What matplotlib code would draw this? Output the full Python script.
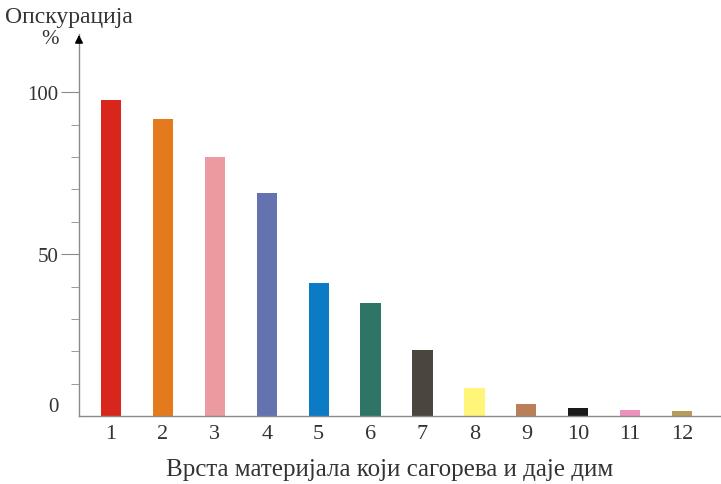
import matplotlib
matplotlib.use("Agg")
import matplotlib.pyplot as plt
from matplotlib.ticker import FixedLocator

# материјали 1-12 и њихова опскурација (%)
categories = ["1", "2", "3", "4", "5", "6", "7", "8", "9", "10", "11", "12"]
obscuration = [97.5, 91.7, 80.0, 69.0, 41.0, 35.0, 20.4, 8.6, 3.7, 2.5, 1.9, 1.5]
bar_colors = ["#d9261c", "#e57a1c", "#eb9aa0", "#6473b0", "#0a7bc4", "#2e7566",
              "#4a463e", "#fff578", "#b97f58", "#1a1a1a", "#ee90bc", "#b89a5a"]
y_major = [0, 50, 100]
y_minor = [10, 20, 30, 40, 60, 70, 80, 90]

AXIS_COLOR = "#8a8a8a"
TEXT_COLOR = "#333333"
FONT = ["Liberation Serif", "DejaVu Serif"]

fig = plt.figure(figsize=(7.21, 4.85), dpi=100)
ax = fig.add_axes([79 / 721, 68 / 485, 641 / 721, 382 / 485])

x = list(range(1, len(categories) + 1))
ax.bar(x, obscuration, width=0.39, color=bar_colors, zorder=2)

ax.set_xlim(0.383, 12.73)
ax.set_ylim(0, 118)

for s in ("top", "right"):
    ax.spines[s].set_visible(False)
for s in ("left", "bottom"):
    ax.spines[s].set_color(AXIS_COLOR)
    ax.spines[s].set_linewidth(1.0)

# arrow on top of y axis
ax.annotate("", xy=(0, 1.005), xytext=(0, 0.97), xycoords="axes fraction",
            arrowprops=dict(arrowstyle="-|>", color="black", lw=1.0,
                            mutation_scale=12))

ax.set_yticks(y_major)
ax.set_yticklabels([str(v) for v in y_major], fontfamily=FONT, fontsize=15,
                   color=TEXT_COLOR)
ax.yaxis.set_minor_locator(FixedLocator(y_minor))
ax.tick_params(axis="y", which="major", length=13, color=AXIS_COLOR, pad=2)
ax.tick_params(axis="y", which="minor", length=6, color=AXIS_COLOR)
# no tick line at zero, its label sits a bit higher
ax.yaxis.get_major_ticks()[0].tick1line.set_visible(False)
ax.yaxis.get_major_ticks()[0].label1.set_va("bottom")

ax.set_xticks(x)
ax.set_xticklabels(categories, fontfamily=FONT, fontsize=16, color=TEXT_COLOR)
ax.tick_params(axis="x", length=0, pad=6)

fig.text(5 / 721, 1 - 17 / 485, "Опскурација", fontfamily=FONT, fontsize=17,
         color=TEXT_COLOR, va="center", ha="left")
fig.text(50 / 721, 1 - 40 / 485, "%", fontfamily=FONT, fontsize=15,
         color=TEXT_COLOR, va="center", ha="center")
fig.text(390 / 721, 1 - 470 / 485, "Врста материјала који сагорева и даје дим",
         fontfamily=FONT, fontsize=18, color=TEXT_COLOR, va="center",
         ha="center")

fig.savefig("out.png", dpi=100, facecolor="white")
